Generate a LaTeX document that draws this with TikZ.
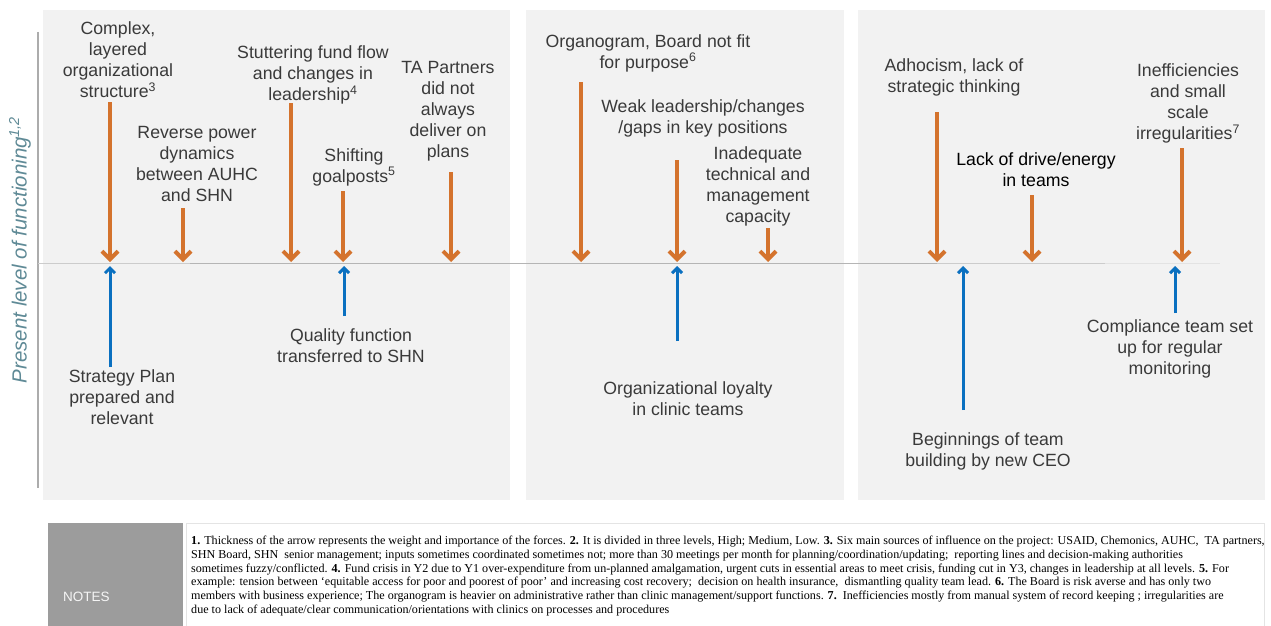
\documentclass[tikz,border=0pt]{standalone}
\usepackage{fontspec}
\setmainfont{Liberation Sans}
\newfontfamily\notesfont{Liberation Serif}
\usetikzlibrary{arrows.meta}

\definecolor{panelbg}{HTML}{F2F2F2}
\definecolor{forceneg}{HTML}{D4732D}
\definecolor{forcepos}{HTML}{0A70C0}
\definecolor{labeltext}{HTML}{3A3A3A}
\definecolor{axislabel}{HTML}{5F8A96}
\definecolor{notesgray}{HTML}{9C9C9C}
\definecolor{notesrule}{HTML}{E4E4E4}

\tikzset{
  panel/.style={fill=panelbg, draw=none},
  lbl/.style={align=center, inner sep=0pt, text=labeltext,
              font=\fontsize{17.7}{21}\selectfont},
  negforce/.style={draw=forceneg, line width=4pt,
                   -{Straight Barb[length=8pt,width=16pt]}},
  posforce/.style={draw=forcepos, line width=3pt,
                   -{Straight Barb[length=5pt,width=10pt]}},
  levelline/.style={line width=1pt}
}

\begin{document}
\begin{tikzpicture}[x=1pt,y=-1pt]
  \useasboundingbox[fill=white] (0,0) rectangle (1271,626);

  % three grey panels
  \fill[panel] (43,10) rectangle (510,500);
  \fill[panel] (526,10) rectangle (844,500);
  \fill[panel] (858,10) rectangle (1265,500);

  % vertical axis and its label
  \draw[draw=gray!65, line width=1.2pt] (38,32) -- (38,488);
  \node[rotate=90, inner sep=0pt, text=axislabel,
        font=\itshape\fontsize{20.5}{24}\selectfont] (axis) at (20,250)
        {Present level of functioning\textsuperscript{1,2}};

  % present level line
  \draw[levelline, draw=gray!40] (38,263) -- (190,263);
  \draw[levelline, draw=gray!58] (190,263) -- (937,263);
  \draw[levelline, draw=gray!40] (937,263) -- (1105,263);
  \draw[levelline, draw=gray!22] (1105,263) -- (1220,263);

  % ---------- restraining forces (orange) ----------
  \node[lbl] (n1) at (118,60) {Complex,\\layered\\organizational\\structure\textsuperscript{3}};
  \coordinate (n1s) at (110,102); \coordinate (n1t) at (110,262);
  \draw[negforce] (n1s) -- (n1t);

  \node[lbl] (n2) at (197,164) {Reverse power\\dynamics\\between AUHC\\and SHN};
  \coordinate (n2s) at (183,208); \coordinate (n2t) at (183,262);
  \draw[negforce] (n2s) -- (n2t);

  \node[lbl] (n3) at (313,75) {Stuttering fund flow\\and changes in\\leadership\textsuperscript{4}};
  \coordinate (n3s) at (291,103); \coordinate (n3t) at (291,262);
  \draw[negforce] (n3s) -- (n3t);

  \node[lbl] (n4) at (354,167) {Shifting\\goalposts\textsuperscript{5}};
  \coordinate (n4s) at (343,191); \coordinate (n4t) at (343,262);
  \draw[negforce] (n4s) -- (n4t);

  \node[lbl] (n5) at (448,111) {TA Partners\\did not\\always\\deliver on\\plans};
  \coordinate (n5s) at (451,172); \coordinate (n5t) at (451,262);
  \draw[negforce] (n5s) -- (n5t);

  \node[lbl] (n6) at (648,53) {Organogram, Board not fit\\for purpose\textsuperscript{6}};
  \coordinate (n6s) at (581,82); \coordinate (n6t) at (581,262);
  \draw[negforce] (n6s) -- (n6t);

  \node[lbl] (n7) at (703,118.5) {Weak leadership/changes\\/gaps in key positions};
  \coordinate (n7s) at (677,160); \coordinate (n7t) at (677,262);
  \draw[negforce] (n7s) -- (n7t);

  \node[lbl] (n8) at (758,186) {Inadequate\\technical and\\management\\capacity};
  \coordinate (n8s) at (768,228); \coordinate (n8t) at (768,262);
  \draw[negforce] (n8s) -- (n8t);

  \node[lbl] (n9) at (954,77.5) {Adhocism, lack of\\strategic thinking};
  \coordinate (n9s) at (937,112); \coordinate (n9t) at (937,262);
  \draw[negforce] (n9s) -- (n9t);

  \node[lbl, text=black] (n10) at (1036,170) {Lack of drive/energy\\in teams};
  \coordinate (n10s) at (1032,195); \coordinate (n10t) at (1032,262);
  \draw[negforce] (n10s) -- (n10t);

  \node[lbl] (n11) at (1188,103.5) {Inefficiencies\\and small\\scale\\irregularities\textsuperscript{7}};
  \coordinate (n11s) at (1182,148); \coordinate (n11t) at (1182,262);
  \draw[negforce] (n11s) -- (n11t);

  % ---------- driving forces (blue) ----------
  \node[lbl] (p1) at (122,397) {Strategy Plan\\prepared and\\relevant};
  \coordinate (p1s) at (110,367); \coordinate (p1t) at (110,266);
  \draw[posforce] (p1s) -- (p1t);

  \node[lbl] (p2) at (351,345.5) {Quality function\\transferred to SHN};
  \coordinate (p2s) at (344,316); \coordinate (p2t) at (344,266);
  \draw[posforce] (p2s) -- (p2t);

  \node[lbl] (p3) at (688,398.5) {Organizational loyalty\\in clinic teams};
  \coordinate (p3s) at (677,341); \coordinate (p3t) at (677,266);
  \draw[posforce] (p3s) -- (p3t);

  \node[lbl] (p4) at (988,451.5) {Beginnings of team\\building by new CEO};
  \coordinate (p4s) at (963,410); \coordinate (p4t) at (963,266);
  \draw[posforce] (p4s) -- (p4t);

  \node[lbl] (p5) at (1170,349) {Compliance team set\\up for regular\\monitoring};
  \coordinate (p5s) at (1175,313); \coordinate (p5t) at (1175,266);
  \draw[posforce] (p5s) -- (p5t);

  % ---------- notes ----------
  \fill[notesgray] (48,523) rectangle (183,630);
  \node[anchor=west, inner sep=0pt, text=white!92!gray,
        font=\fontsize{13.5}{16}\selectfont] (notestitle) at (63,597) {NOTES};
  \draw[draw=notesrule, fill=white, line width=0.8pt] (186,523) rectangle (1264,632);
  \node[anchor=north west, align=left, inner sep=0pt, text=black,
        font=\notesfont\fontsize{12.1}{13.7}\selectfont] (notes) at (191,536)
  {\textbf{1.} Thickness of the arrow represents the weight and importance of the forces. \textbf{2.} It is divided in three levels, High; Medium, Low. \textbf{3.} Six main sources of influence on the project: USAID, Chemonics, AUHC,\ \ TA partners,\\
   SHN Board, SHN\ \ senior management; inputs sometimes coordinated sometimes not; more than 30 meetings per month for planning/coordination/updating;\ \ reporting lines and decision-making authorities\\
   sometimes fuzzy/conflicted. \textbf{4.} Fund crisis in Y2 due to Y1 over-expenditure from un-planned amalgamation,\ urgent cuts in essential areas to meet crisis, funding cut in Y3, changes in leadership at all levels. \textbf{5.} For\\
   example: tension between ‘equitable access for poor and poorest of poor’ and increasing cost recovery;\ \ decision on health insurance,\ \ dismantling quality team lead. \textbf{6.} The Board is risk averse and has only two\\
   members with business experience; The organogram is heavier on administrative rather than clinic management/support functions. \textbf{7.}\ \ Inefficiencies mostly from manual system of record keeping ; irregularities are\\
   due to lack of adequate/clear communication/orientations with clinics on processes and procedures};
\end{tikzpicture}
\end{document}
